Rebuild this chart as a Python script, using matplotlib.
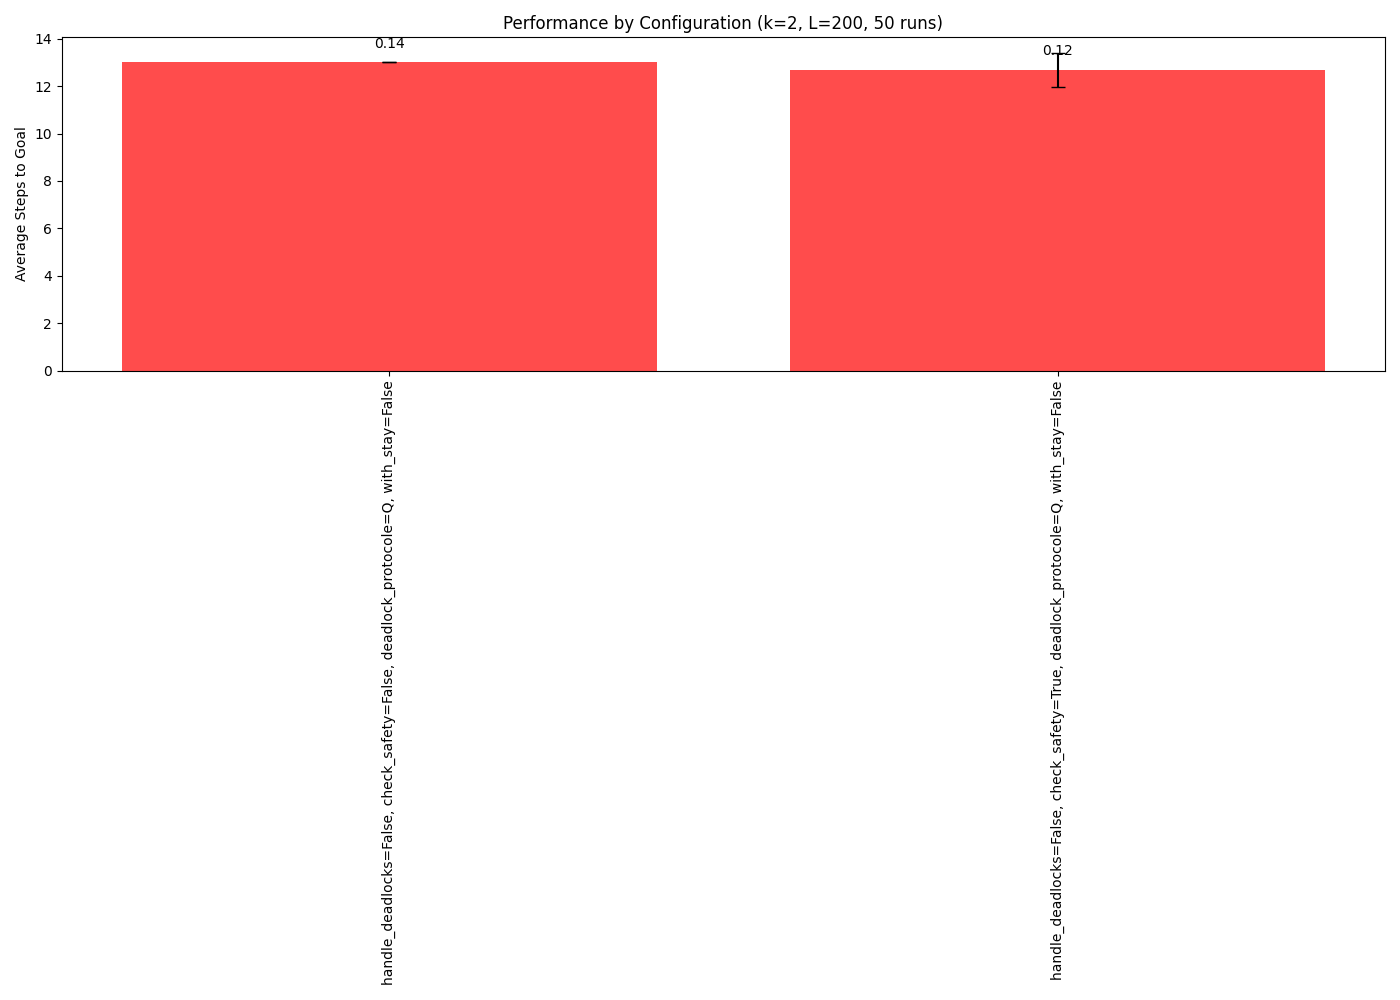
import matplotlib
matplotlib.use("Agg")
import matplotlib.pyplot as plt

configs = [
    "handle_deadlocks=False, check_safety=False, deadlock_protocole=Q, with_stay=False",
    "handle_deadlocks=False, check_safety=True, deadlock_protocole=Q, with_stay=False",
]
avg_steps = [13.0, 12.67]
std_steps = [0.0, 0.72]
bar_labels = ["0.14", "0.12"]

fig, ax = plt.subplots(figsize=(14, 10), dpi=100)
x = list(range(len(configs)))
bars = ax.bar(x, avg_steps, yerr=std_steps, capsize=5, color="red", alpha=0.7,
              error_kw=dict(ecolor="black"))
for xi, h, lab in zip(x, avg_steps, bar_labels):
    ax.text(xi, h + 0.5, lab, ha="center", va="bottom")
ax.set_xticks(x)
ax.set_xticklabels(configs, rotation=90)
ax.set_ylabel("Average Steps to Goal")
ax.set_title("Performance by Configuration (k=2, L=200, 50 runs)")
fig.tight_layout()
fig.savefig("out.png")
